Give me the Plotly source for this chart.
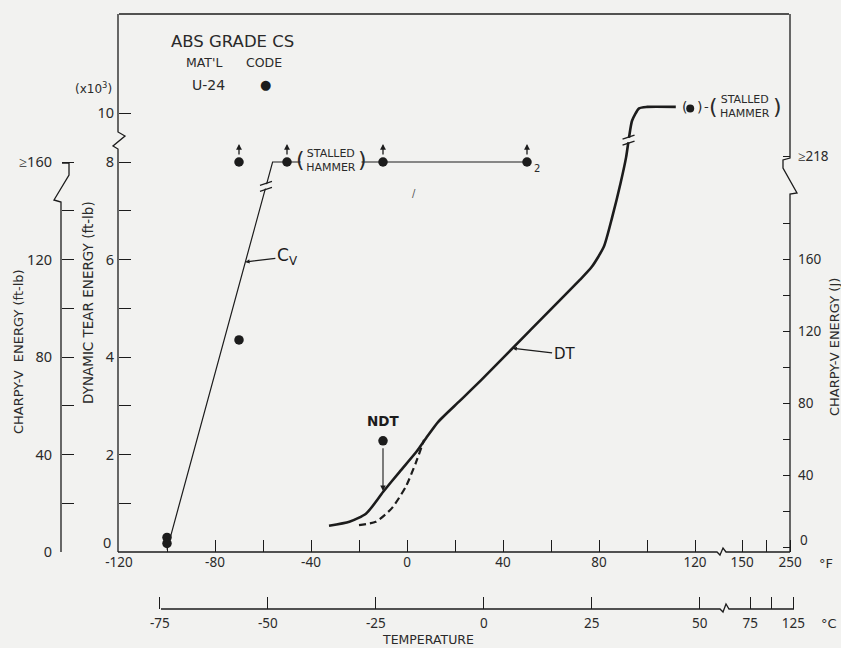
import plotly.graph_objects as go

W, H = 841, 648
BG = "#f2f2f0"
INK = "#1c1c1c"
TXT = "#2a2a2a"
FONT = "Noto Sans"
LFONT = "DejaVu Sans"

# ---------------- data ----------------
# Dynamic tear curve (temperature degF, DT energy x10^3 ft-lb)
dt_temp = [-32.5, -24, -17, -10, -3, 4, 8, 13, 22, 31, 51, 72, 77, 82, 85.5, 89, 91.3, 92.5, 93.8, 96.7, 100, 112]
dt_energy = [0.54, 0.62, 0.79, 1.23, 1.65, 2.06, 2.34, 2.67, 3.1, 3.53, 4.53, 5.58, 5.85, 6.26, 6.87, 7.57, 8.2, 9.0, 9.7, 10.2, 10.26, 10.26]
# dashed lower branch of DT curve
dt_dash_temp = [-20, -13, -6.3, -0.5, 3.6, 7.1]
dt_dash_energy = [0.55, 0.62, 0.9, 1.34, 1.82, 2.3]
# DT stalled-hammer point
dt_stalled_temp = [118]
dt_stalled_energy = [10.2]
# Charpy-V curve (degF, ft-lb)
cv_line_temp = [-100, -56, 50]
cv_line_energy = [1, 160, 160]
# Charpy-V test points (degF, ft-lb)
cv_temp = [-100, -100, -70, -70, -50, -10, 50]
cv_energy = [6, 3.5, 87, 160, 160, 160, 160]
cv_stalled_temp = [-70, -50, -10, 50]
cv_stalled_energy = 160
# NDT
ndt_temp = -10
ndt_marker_energy = 2.28

# axis ticks
f_ticks = [-120, -100, -80, -60, -40, -20, 0, 20, 40, 60, 80, 100, 120, 150, 200, 250]
f_labels = ["-120", "", "-80", "", "-40", "", "0", "", "40", "", "80", "", "120", "150", "", "250"]
c_ticks = [-75, -50, -25, 0, 25, 50, 75, 100, 125]
c_labels = ["-75", "-50", "-25", "0", "25", "50", "75", "", "125"]
dt_ticks = [0, 1, 2, 3, 4, 5, 6, 7, 8, 10]
dt_labels = ["", "", "2", "", "4", "", "6", "", "8", "10"]
ftlb_ticks = [0, 20, 40, 60, 80, 100, 120, 140, 160]
ftlb_labels = ["0", "", "40", "", "80", "", "120", "", "≥160"]
j_ticks = [0, 20, 40, 60, 80, 100, 120, 140, 160, 180]
j_labels = ["", "", "40", "", "80", "", "120", "", "160", ""]
FTLB_TO_J = 1.3558

# ---------------- scale helpers (broken axes) ----------------
def fx(t):
    return t if t <= 135 else 139.6 + (t - 150) * 0.2

def fy(e):
    return e if e <= 8 else 8 + (e - 8) * 0.5

def interp(x, xs, ys):
    for i in range(len(xs) - 1):
        if xs[i] <= x <= xs[i + 1]:
            f = (x - xs[i]) / (xs[i + 1] - xs[i])
            return ys[i] + f * (ys[i + 1] - ys[i])
    return ys[-1]

XL, XR, YB, YT = 119, 795, 552, 14
PX_F, PX_DT = 2.4, 48.75
x_range = [-120, -120 + (XR - XL) / PX_F]
y_range = [0, (YB - YT) / PX_DT]
JB = 547
PX_J = 1.8
j_range = [-(YB - JB) / PX_J, (JB - YT) / PX_J]

def P(x, y):
    return x / W, 1 - y / H

def path(pts):
    s = []
    for i, (x, y) in enumerate(pts):
        a, b = P(x, y)
        s.append(("M" if i == 0 else "L") + f" {a:.5f},{b:.5f}")
    return " ".join(s)

fig = go.Figure()

# Charpy line
fig.add_trace(go.Scatter(x=[fx(t) for t in cv_line_temp], y=[fy(e / 20) for e in cv_line_energy],
                         mode="lines", line=dict(color=INK, width=1.2), hoverinfo="skip"))
# dashed DT branch
fig.add_trace(go.Scatter(x=[fx(t) for t in dt_dash_temp], y=[fy(e) for e in dt_dash_energy],
                         mode="lines", line=dict(color=INK, width=2.2, dash="7px,4px", shape="spline", smoothing=0.6),
                         hoverinfo="skip"))
# DT curve
fig.add_trace(go.Scatter(x=[fx(t) for t in dt_temp], y=[fy(e) for e in dt_energy],
                         mode="lines", line=dict(color=INK, width=2.6, shape="spline", smoothing=0.6),
                         hoverinfo="skip"))
# Charpy points
fig.add_trace(go.Scatter(x=[fx(t) for t in cv_temp], y=[fy(e / 20) for e in cv_energy],
                         mode="markers", marker=dict(color=INK, size=9.5), hoverinfo="skip"))
# DT stalled point
fig.add_trace(go.Scatter(x=[fx(t) for t in dt_stalled_temp], y=[fy(e) for e in dt_stalled_energy],
                         mode="markers", marker=dict(color=INK, size=8), hoverinfo="skip"))
# NDT point
fig.add_trace(go.Scatter(x=[fx(ndt_temp)], y=[ndt_marker_energy],
                         mode="markers", marker=dict(color=INK, size=9.5), hoverinfo="skip"))

shapes = []
line_style = dict(color=INK, width=1.3)
# frame with breaks
shapes.append(dict(type="path", xref="paper", yref="paper", line=line_style,
                   path=path([(119, 14), (789, 14)])))
shapes.append(dict(type="path", xref="paper", yref="paper", line=line_style,
                   path=path([(118, 14), (118, 132), (125, 136), (113, 146), (118, 149), (118, 552)])))
shapes.append(dict(type="path", xref="paper", yref="paper", line=line_style,
                   path=path([(118, 552), (717, 552), (720, 555), (723, 548), (726, 552), (790, 552)])))
shapes.append(dict(type="path", xref="paper", yref="paper", line=line_style,
                   path=path([(790, 14), (790, 158), (783, 160), (783, 168), (797, 193), (790, 194), (790, 552)])))
shapes.append(dict(type="path", xref="paper", yref="paper", line=line_style,
                   path=path([(62, 163), (69, 163), (69, 175), (54, 200), (61, 202), (61, 552)])))
shapes.append(dict(type="path", xref="paper", yref="paper", line=line_style,
                   path=path([(161, 609), (720, 609), (723, 612), (726, 604), (729, 609), (794, 609)])))

# break marks on curves
def break_mark(xd, yd, lw):
    shapes.append(dict(type="rect", xref="x", yref="y", xsizemode="pixel", ysizemode="pixel",
                       xanchor=xd, yanchor=yd, x0=-5, x1=5, y0=-2.2, y1=2.2,
                       fillcolor=BG, line=dict(width=0)))
    for off in (-3, 3):
        shapes.append(dict(type="line", xref="x", yref="y", xsizemode="pixel", ysizemode="pixel",
                           xanchor=xd, yanchor=yd, x0=-6, x1=6, y0=off - 2, y1=off + 2,
                           line=dict(color=INK, width=lw)))

cv_b_e = 150
cv_b_t = interp(cv_b_e, cv_line_energy[:2], cv_line_temp[:2])
break_mark(fx(cv_b_t), fy(cv_b_e / 20), 1.1)
break_mark(fx(92.3), fy(8.9), 1.4)

ann = []
def txt(xp, yp, text, size=13, family=LFONT, color=TXT, **kw):
    a, b = P(xp, yp)
    d = dict(x=a, y=b, xref="paper", yref="paper", text=text, showarrow=False,
             font=dict(family=family, size=size, color=color), xanchor="center", yanchor="middle")
    d.update(kw)
    ann.append(d)

txt(232, 42, "ABS GRADE CS", 16.5)
txt(204, 63, "MAT'L", 12.5)
txt(264, 63, "CODE", 12.5)
txt(208, 85, "U-24", 14)
txt(265, 84, "●", 13, color=INK)
txt(93, 88, "(x10<sup>3</sup>)", 12)
txt(826, 563, "°F", 13)
txt(829, 623, "°C", 13)
txt(428, 639, "TEMPERATURE", 12.5)
txt(18, 352, "CHARPY-V  ENERGY (ft-lb)", 13, textangle=-90)
txt(88, 303, "DYNAMIC TEAR ENERGY (ft-lb)", 13.5, textangle=-90)
txt(834, 347, "CHARPY-V ENERGY (J)", 13, textangle=-90)
txt(414, 193, "/", 10, color="#555")
# zero labels placed clear of the degF tick labels
txt(804, 540, "0", 13.5, family=FONT)
txt(107, 542, "0", 14.5, family=FONT)

# Cv stalled hammer label (masks the line)
txt(331, 160, "STALLED<br>HAMMER", 11, bgcolor=BG, width=58, borderpad=1)
txt(300, 159, "(", 22)
txt(362, 159, ")", 22)
# DT stalled hammer label
txt(684, 107, "(", 14)
txt(699, 107, ")", 14)
txt(706, 107, "-", 13)
txt(745, 107, "STALLED<br>HAMMER", 11)
txt(713, 107, "(", 22)
txt(777, 107, ")", 22)
# subscript 2
ann.append(dict(x=fx(cv_stalled_temp[-1]), y=fy(cv_stalled_energy / 20), xref="x", yref="y", text="2",
                showarrow=False, xshift=10, yshift=-6, font=dict(family=LFONT, size=10, color=TXT)))

# up arrows on stalled Charpy points
for t in cv_stalled_temp:
    ann.append(dict(x=fx(t), y=fy(cv_stalled_energy / 20), xref="x", yref="y", text="", showarrow=True,
                    ax=0, ay=12, yshift=18, arrowhead=2, arrowsize=0.9, arrowwidth=1.3, arrowcolor=INK,
                    standoff=0))

# NDT arrow and label
ndt_curve = interp(ndt_temp, dt_temp, dt_energy)
ann.append(dict(x=fx(ndt_temp), y=ndt_curve, xref="x", yref="y", ax=fx(ndt_temp), ay=ndt_marker_energy,
                axref="x", ayref="y", text="", showarrow=True, arrowhead=2, arrowsize=1, arrowwidth=1.1,
                arrowcolor=INK, startstandoff=6, standoff=1))
ann.append(dict(x=fx(ndt_temp), y=ndt_marker_energy, xref="x", yref="y", text="<b>NDT</b>",
                showarrow=False, yshift=20, font=dict(family=LFONT, size=13.5, color=INK)))

# Cv leader label
cv_lab_e = 119
cv_lab_t = interp(cv_lab_e, cv_line_energy[:2], cv_line_temp[:2])
ann.append(dict(x=fx(cv_lab_t), y=fy(cv_lab_e / 20), xref="x", yref="y", text="C<sub>V</sub>",
                showarrow=True, ax=42, ay=-5, arrowhead=2, arrowsize=0.7, arrowwidth=1.2, arrowcolor=INK,
                standoff=0, font=dict(family=LFONT, size=17, color=INK)))
# DT leader label
dt_lab_t = 44
ann.append(dict(x=fx(dt_lab_t), y=interp(dt_lab_t, dt_temp, dt_energy), xref="x", yref="y", text="DT",
                showarrow=True, ax=52, ay=6, arrowhead=2, arrowsize=0.7, arrowwidth=1.2, arrowcolor=INK,
                standoff=0, font=dict(family=LFONT, size=15, color=INK)))

tickfont = dict(family=FONT, size=13.5, color=TXT)
common = dict(showgrid=False, zeroline=False, showline=False, fixedrange=True, automargin=False,
              ticks="inside", tickcolor=INK, tickwidth=1.2, tickfont=tickfont)
nofont = {k: v for k, v in common.items() if k != "tickfont"}

fig.update_layout(
    width=W, height=H, margin=dict(l=0, r=0, t=0, b=0),
    paper_bgcolor=BG, plot_bgcolor=BG, showlegend=False, hovermode=False,
    xaxis=dict(domain=[XL / W, XR / W], range=x_range, tickvals=[fx(t) for t in f_ticks],
               ticktext=f_labels, ticklen=12, **common),
    xaxis2=dict(overlaying="x", anchor="free", position=1 - 609 / H, side="bottom", range=x_range,
                tickvals=[fx(c * 9 / 5 + 32) for c in c_ticks], ticktext=c_labels, ticklen=12,
                ticklabelstandoff=4, **common),
    yaxis=dict(domain=[1 - YB / H, 1 - YT / H], range=y_range, tickvals=[fy(v) for v in dt_ticks],
               ticktext=dt_labels, ticklen=12, ticklabelstandoff=4,
               tickfont=dict(family=FONT, size=14.5, color=TXT), **nofont),
    yaxis2=dict(overlaying="y", anchor="free", position=790 / W, side="right", range=j_range,
                tickvals=j_ticks + [160 * FTLB_TO_J], ticktext=j_labels + ["≥218"], ticklen=7,
                ticklabelstandoff=7, **common),
    yaxis3=dict(overlaying="y", anchor="free", position=61 / W, side="left", range=[0, y_range[1] * 20],
                tickvals=ftlb_ticks, ticktext=ftlb_labels, ticklen=12, ticklabelstandoff=9,
                tickfont=dict(family=FONT, size=14.5, color=TXT), **nofont),
    shapes=shapes, annotations=ann,
)
# attach dummy traces so overlay axes render
fig.add_trace(go.Scatter(x=[None], y=[None], xaxis="x2", yaxis="y2", hoverinfo="skip"))
fig.add_trace(go.Scatter(x=[None], y=[None], xaxis="x", yaxis="y3", hoverinfo="skip"))

fig.write_html("out.html", config={"displayModeBar": False},
               post_script="document.body.style.margin='0px';document.body.style.padding='0px';")
